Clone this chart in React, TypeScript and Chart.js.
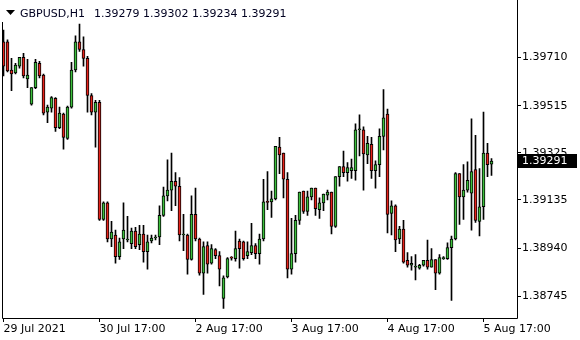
import React, { useEffect, useRef } from 'react';
import { Chart, registerables } from 'chart.js';

Chart.register(...registerables);

const symbolText = 'GBPUSD,H1';

const opens = [
  1.39773, 1.39773, 1.39659, 1.39647, 1.39675, 1.39710, 1.39623, 1.39521, 1.39588, 1.39686,
  1.39639, 1.39489, 1.39505, 1.39545, 1.39426, 1.39481, 1.39383, 1.39509, 1.39659, 1.39773,
  1.39742, 1.39706, 1.39556, 1.39489, 1.39529, 1.39056, 1.39123, 1.38977, 1.38993, 1.38906,
  1.38977, 1.38973, 1.38958, 1.39009, 1.38954, 1.38997, 1.38926, 1.38969, 1.38981, 1.38985,
  1.39072, 1.39151, 1.39174, 1.39210, 1.39190, 1.38993, 1.38993, 1.38894, 1.39076, 1.38977,
  1.38839, 1.38950, 1.38879, 1.38934, 1.38910, 1.38737, 1.38824, 1.38902, 1.38898, 1.38969,
  1.38965, 1.38910, 1.38922, 1.38950, 1.38918, 1.38977, 1.39127, 1.39127, 1.39139, 1.39348,
  1.39324, 1.39218, 1.38855, 1.38918, 1.39052, 1.39170, 1.39088, 1.39147, 1.39182, 1.39095,
  1.39123, 1.39154, 1.39166, 1.39028, 1.39229, 1.39269, 1.39245, 1.39253, 1.39253, 1.39418,
  1.39418, 1.39316, 1.39359, 1.39253, 1.39277, 1.39391, 1.39481, 1.39080, 1.39111, 1.38977,
  1.39017, 1.38891, 1.38871, 1.38863, 1.38859, 1.38871, 1.38891, 1.38863, 1.38894, 1.38839,
  1.38898, 1.38898, 1.38942, 1.38977, 1.39241, 1.39147, 1.39174, 1.39162, 1.39257, 1.39048,
  1.39107, 1.39324, 1.39279,
];

const highs = [
  1.39820, 1.39781, 1.39706, 1.39686, 1.39710, 1.39726, 1.39702, 1.39588, 1.39702, 1.39694,
  1.39643, 1.39517, 1.39552, 1.39548, 1.39509, 1.39485, 1.39513, 1.39690, 1.39797, 1.39844,
  1.39793, 1.39714, 1.39564, 1.39537, 1.39537, 1.39127, 1.39127, 1.39048, 1.39013, 1.38981,
  1.39123, 1.39068, 1.39021, 1.39024, 1.39032, 1.39032, 1.38993, 1.38993, 1.38993, 1.39111,
  1.39186, 1.39296, 1.39324, 1.39245, 1.39225, 1.39076, 1.38997, 1.39151, 1.39182, 1.38981,
  1.38965, 1.38965, 1.38954, 1.38938, 1.38926, 1.38828, 1.38902, 1.38906, 1.39009, 1.38977,
  1.38969, 1.38965, 1.39040, 1.38958, 1.38997, 1.39218, 1.39249, 1.39170, 1.39351, 1.39387,
  1.39324, 1.39245, 1.39060, 1.39072, 1.39166, 1.39170, 1.39170, 1.39182, 1.39182, 1.39143,
  1.39158, 1.39174, 1.39166, 1.39229, 1.39269, 1.39332, 1.39285, 1.39300, 1.39442, 1.39478,
  1.39430, 1.39391, 1.39387, 1.39292, 1.39422, 1.39580, 1.39501, 1.39131, 1.39115, 1.39028,
  1.39052, 1.38922, 1.38906, 1.38914, 1.38875, 1.38891, 1.38973, 1.38938, 1.38894, 1.38914,
  1.38906, 1.38961, 1.38989, 1.39245, 1.39241, 1.39277, 1.39288, 1.39462, 1.39395, 1.39261,
  1.39489, 1.39363, 1.39302,
];

const lows = [
  1.39635, 1.39651, 1.39576, 1.39643, 1.39667, 1.39627, 1.39588, 1.39517, 1.39584, 1.39627,
  1.39478, 1.39446, 1.39489, 1.39411, 1.39422, 1.39340, 1.39379, 1.39505, 1.39651, 1.39734,
  1.39675, 1.39489, 1.39478, 1.39348, 1.39052, 1.39052, 1.38965, 1.38946, 1.38879, 1.38894,
  1.38938, 1.38965, 1.38938, 1.38938, 1.38934, 1.38883, 1.38855, 1.38961, 1.38973, 1.38954,
  1.39068, 1.39131, 1.39091, 1.39111, 1.38969, 1.38930, 1.38835, 1.38891, 1.38969, 1.38831,
  1.38753, 1.38839, 1.38875, 1.38898, 1.38788, 1.38697, 1.38820, 1.38891, 1.38887, 1.38859,
  1.38891, 1.38898, 1.38914, 1.38898, 1.38875, 1.38969, 1.39095, 1.39064, 1.39135, 1.39241,
  1.39143, 1.38820, 1.38835, 1.38883, 1.39036, 1.39080, 1.39072, 1.39135, 1.39072, 1.39060,
  1.39091, 1.39135, 1.38997, 1.39024, 1.39190, 1.39229, 1.39210, 1.39221, 1.39214, 1.39312,
  1.39174, 1.39281, 1.39221, 1.39182, 1.39229, 1.39336, 1.39001, 1.38993, 1.38926, 1.38958,
  1.38879, 1.38863, 1.38851, 1.38812, 1.38855, 1.38867, 1.38855, 1.38863, 1.38772, 1.38835,
  1.38894, 1.38894, 1.38729, 1.38973, 1.39036, 1.39056, 1.39166, 1.39013, 1.39044, 1.38989,
  1.39056, 1.39229, 1.39234,
];

const closes = [
  1.39675, 1.39655, 1.39643, 1.39679, 1.39710, 1.39635, 1.39639, 1.39588, 1.39690, 1.39635,
  1.39485, 1.39509, 1.39548, 1.39426, 1.39485, 1.39387, 1.39509, 1.39659, 1.39773, 1.39742,
  1.39706, 1.39556, 1.39489, 1.39529, 1.39056, 1.39123, 1.38977, 1.39005, 1.38906, 1.38965,
  1.39013, 1.38975, 1.39009, 1.38946, 1.38997, 1.38926, 1.38965, 1.38981, 1.38985, 1.39072,
  1.39151, 1.39174, 1.39210, 1.39190, 1.38993, 1.38995, 1.38894, 1.39076, 1.38977, 1.38839,
  1.38946, 1.38875, 1.38938, 1.38910, 1.38855, 1.38820, 1.38898, 1.38900, 1.38938, 1.38938,
  1.38898, 1.38926, 1.38950, 1.38918, 1.38977, 1.39127, 1.39125, 1.39139, 1.39351, 1.39316,
  1.39218, 1.38855, 1.38918, 1.39052, 1.39166, 1.39088, 1.39147, 1.39182, 1.39099, 1.39123,
  1.39158, 1.39166, 1.39028, 1.39229, 1.39269, 1.39245, 1.39265, 1.39265, 1.39418, 1.39420,
  1.39320, 1.39363, 1.39253, 1.39277, 1.39391, 1.39466, 1.39076, 1.39111, 1.38973, 1.39017,
  1.38883, 1.38871, 1.38879, 1.38865, 1.38871, 1.38891, 1.38863, 1.38894, 1.38839, 1.38902,
  1.38900, 1.38942, 1.38977, 1.39241, 1.39147, 1.39174, 1.39214, 1.39249, 1.39052, 1.39107,
  1.39324, 1.39277, 1.39291,
];

const timeTickIndex = [0, 24, 48, 72, 96, 120];
const timeTickLabels = ['29 Jul 2021', '30 Jul 17:00', '2 Aug 17:00', '3 Aug 17:00', '4 Aug 17:00', '5 Aug 17:00'];
const priceTicks = [1.38745, 1.3894, 1.39135, 1.39325, 1.39515, 1.3971];
const priceMin = 1.38658;
const priceMax = 1.39911;

const BULL = '#3cbf3c';
const BEAR = '#e6231b';
const FONT = '"DejaVu Sans", Tahoma, sans-serif';

const overlayPlugin = {
  id: 'mt4Overlay',
  afterDraw(chart: any) {
    const { ctx, chartArea: a, scales } = chart;
    ctx.save();
    // frame
    ctx.strokeStyle = '#000';
    ctx.lineWidth = 1;
    ctx.beginPath();
    ctx.moveTo(Math.round(a.left) + 0.5, 22);
    ctx.lineTo(Math.round(a.left) + 0.5, Math.round(a.bottom) + 0.5);
    ctx.lineTo(Math.round(a.right) + 0.5, Math.round(a.bottom) + 0.5);
    ctx.lineTo(Math.round(a.right) + 0.5, 0);
    ctx.stroke();

    // last price tag
    const last = closes[closes.length - 1];
    const py = Math.round(scales.y.getPixelForValue(last));
    ctx.fillStyle = '#000';
    ctx.fillRect(Math.round(a.right), py - 7, 60, 14);
    ctx.fillStyle = '#fff';
    ctx.font = '11px ' + FONT;
    ctx.textBaseline = 'middle';
    ctx.textAlign = 'left';
    ctx.fillText(last.toFixed(5), Math.round(a.right) + 5, py + 0.5);

    // header
    ctx.fillStyle = '#000';
    ctx.beginPath();
    ctx.moveTo(6, 10);
    ctx.lineTo(15, 10);
    ctx.lineTo(10.5, 15);
    ctx.closePath();
    ctx.fill();
    ctx.fillStyle = '#000020';
    ctx.textBaseline = 'alphabetic';
    ctx.fillText(symbolText, 20, 17);
    const i = closes.length - 1;
    const ohlc = [opens[i], highs[i], lows[i], closes[i]].map((v) => v.toFixed(5)).join(' ');
    ctx.fillText(ohlc, 94, 17);
    ctx.restore();
  },
};

export default function App() {
  const ref = useRef<HTMLCanvasElement>(null);

  useEffect(() => {
    document.body.style.margin = '0';
    const idx = closes.map((_, i) => i);
    const bodyData = idx.map((i) => ({ x: i, y: [opens[i], closes[i]] }));
    const wickData = idx.map((i) => ({ x: i, y: [lows[i], highs[i]] }));
    const colors = idx.map((i) => (closes[i] >= opens[i] ? BULL : BEAR));

    const chart = new Chart(ref.current as HTMLCanvasElement, {
      type: 'bar',
      data: {
        datasets: [
          {
            data: bodyData as any,
            backgroundColor: colors,
            borderColor: '#000',
            borderWidth: 1,
            borderSkipped: false,
            barThickness: 3,
            minBarLength: 1,
            grouped: false,
            order: 1,
          } as any,
          {
            data: wickData as any,
            backgroundColor: '#000',
            borderWidth: 0,
            barThickness: 1,
            grouped: false,
            order: 2,
          } as any,
        ],
      },
      options: {
        responsive: false,
        animation: false,
        events: [],
        layout: { padding: { left: 2, top: 0, right: 0, bottom: 0 } },
        plugins: {
          legend: { display: false },
          tooltip: { enabled: false },
        },
        scales: {
          x: {
            type: 'linear',
            position: 'bottom',
            min: -0.375,
            max: 128.375,
            offset: false,
            bounds: 'data',
            afterFit: (s: any) => {
              s.height = 22;
            },
            afterBuildTicks: (s: any) => {
              s.ticks = timeTickIndex.map((v) => ({ value: v }));
            },
            grid: { display: true, drawOnChartArea: false, drawTicks: true, tickLength: 4, color: '#000', offset: false },
            border: { display: false },
            ticks: {
              autoSkip: false,
              maxRotation: 0,
              minRotation: 0,
              align: 'start',
              padding: 1,
              color: '#000',
              font: { family: FONT, size: 11 },
              callback: (v: any) => {
                const k = timeTickIndex.indexOf(Number(v));
                return k >= 0 ? timeTickLabels[k] : '';
              },
            },
          } as any,
          y: {
            type: 'linear',
            position: 'right',
            min: priceMin,
            max: priceMax,
            bounds: 'data',
            afterFit: (s: any) => {
              s.width = 63;
            },
            afterBuildTicks: (s: any) => {
              s.ticks = priceTicks.map((v) => ({ value: v }));
            },
            grid: { display: true, drawOnChartArea: false, drawTicks: true, tickLength: 4, color: '#000' },
            border: { display: false },
            ticks: {
              padding: 1,
              color: '#000',
              font: { family: FONT, size: 11 },
              callback: (v: any) => Number(v).toFixed(5),
            },
          } as any,
        },
      },
      plugins: [overlayPlugin],
    });
    return () => chart.destroy();
  }, []);

  return (
    <div style={{ width: 580, height: 340, background: '#fff' }}>
      <canvas ref={ref} width={580} height={340} style={{ display: 'block' }} />
    </div>
  );
}
